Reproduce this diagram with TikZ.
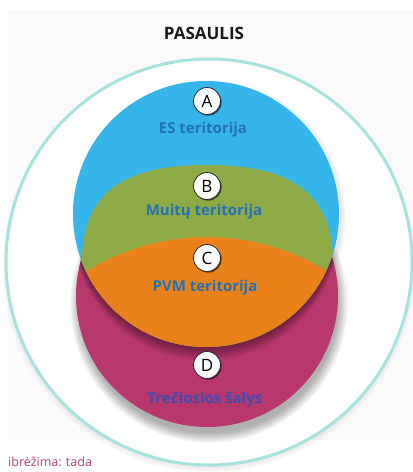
\documentclass[tikz,border=0pt]{standalone}
\usepackage{fontspec}
\setmainfont{Open Sans}
\usetikzlibrary{shadows}
\definecolor{skyblue}{HTML}{35B5EA}
\definecolor{olivegreen}{HTML}{8FAB47}
\definecolor{vatorange}{HTML}{EA8219}
\definecolor{magentaD}{HTML}{B8376D}
\definecolor{ringteal}{HTML}{A6E3DC}
\definecolor{labelblue}{HTML}{2270B6}
\definecolor{labelblueD}{HTML}{3D4EB6}
\definecolor{notemag}{HTML}{B0457A}
\definecolor{bggray}{HTML}{FAFAFA}
\tikzset{
  lettercircle/.style={circle, draw=black!85, line width=0.8pt, fill=white,
    minimum size=27pt, inner sep=0pt, font=\fontsize{17}{17}\selectfont,
    drop shadow={shadow xshift=1.2pt, shadow yshift=-1.2pt, opacity=0.55, fill=black}},
  arealabel/.style={font=\fontsize{15}{15}\selectfont\bfseries, text=labelblue, inner sep=1pt},
  titlelabel/.style={font=\fontsize{17}{17}\selectfont\bfseries, text=black!90, inner sep=1pt},
  notelabel/.style={font=\fontsize{12.5}{12.5}\selectfont, text=notemag, inner sep=0pt, anchor=west}
}
\begin{document}
\begin{tikzpicture}[x=1pt,y=-1pt]
\useasboundingbox (0,0) rectangle (413,472);
\fill[white] (0,0) rectangle (413,472);
\fill[bggray] (8,10) rectangle (413,440);
% outer ring with soft shadow
\foreach \i in {0,...,7} {\fill[black,opacity=0.012] (209,266) circle ({204pt+\i*1pt-4pt});}
\fill[white] (209,262) circle (203pt);
\draw[ringteal, line width=3pt] (209,262) circle (203pt);
% magenta circle shadow
\foreach \i in {0,...,11} {\fill[black,opacity=0.028] (209,304) circle ({139pt-\i*0.9pt});}
% blue circle faint shadow
\foreach \i in {0,...,5} {\fill[black,opacity=0.015] (209,217) circle ({137pt-\i*0.8pt});}
% D region
\fill[magentaD] (207,296) circle (131pt);
% shadow of the blue/orange shape onto D
\begin{scope}
  \clip (207,296) circle (131pt);
  \foreach \i in {1,...,11} {\fill[black,opacity=0.038] (206,{214+\i*1.2}) circle (133pt);}
\end{scope}
% A region
\fill[skyblue] (206,214) circle (133pt);
% B region
\begin{scope}
  \clip (206,214) circle (133pt);
  \fill[olivegreen] (82,257) .. controls (84,185) and (135,165) .. (207,165)
     .. controls (279,165) and (330,185) .. (333,257)
     -- (345,257) -- (345,400) -- (68,400) -- (68,257) -- cycle;
  % C region
  \fill[vatorange] (207,464) circle (227pt);
\end{scope}
% labels
\node[titlelabel] (title) at (204,33) {PASAULIS};
\node[lettercircle] (A) at (207,101) {A};
\node[arealabel] (ES) at (203,130) {ES teritorija};
\node[lettercircle] (B) at (207,186) {B};
\node[arealabel] (MU) at (204,212) {Muitų teritorija};
\node[lettercircle] (C) at (207,258) {C};
\node[arealabel] (PVM) at (205,288) {PVM teritorija};
\node[lettercircle] (D) at (207,365) {D};
\node[arealabel, text=labelblueD] (TS) at (205,400) {Trečiosios šalys};
\node[notelabel] (note) at (8,462) {ibrėžima: tada};
\end{tikzpicture}
\end{document}
